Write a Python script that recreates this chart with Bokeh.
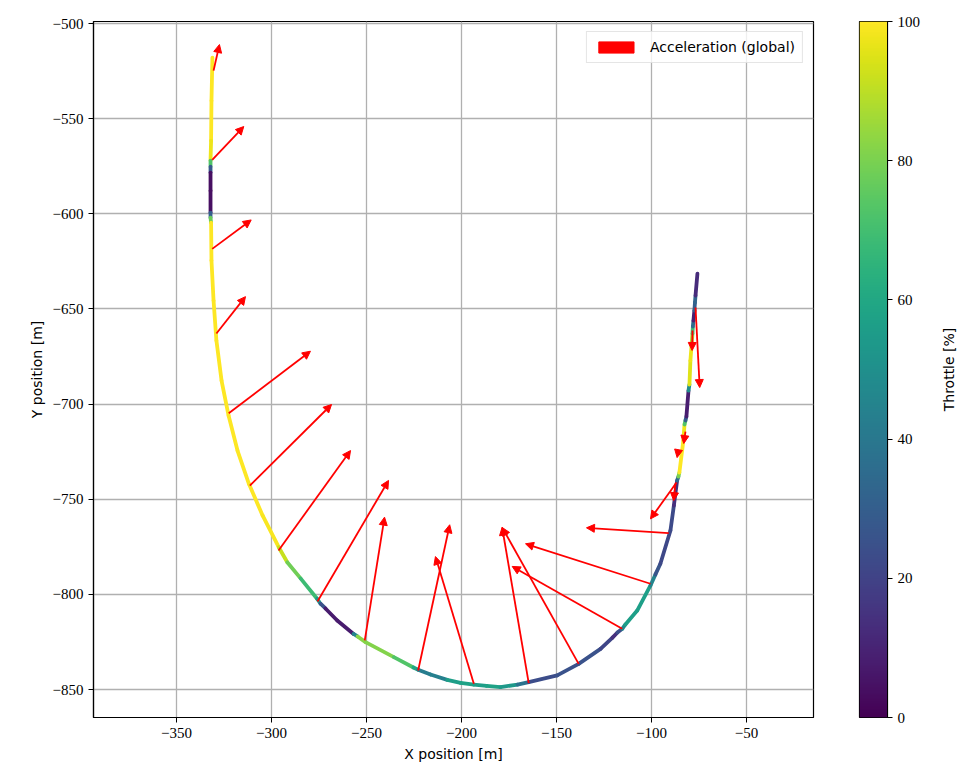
import numpy as np
from bokeh.plotting import figure
from bokeh.models import (ColumnDataSource, Arrow, NormalHead, LinearColorMapper,
                          Range1d, FixedTicker, Legend, LegendItem)
from bokeh.palettes import Viridis256
from bokeh.transform import linear_cmap
from bokeh.layouts import row
from bokeh.embed import file_html
from bokeh.resources import INLINE

# ---------------- data ----------------
track_x = [-331.1, -331.6, -331.8, -332.1, -332.1, -332.1, -332.1, -332.1, -332.1, -331.8,
           -331.6, -330.5, -329.0, -326.3, -322.6, -317.9, -311.9, -304.7, -296.2, -291.7,
           -284.7, -276.0, -274.2, -271.6, -265.4, -256.8, -254.7, -250.5, -235.6, -225.3,
           -222.8, -216.3, -207.5, -200.5, -193.5, -186.8, -179.5, -170.5, -164.6, -149.6,
           -138.3, -126.8, -120.5, -117.9, -115.4, -113.7, -107.5, -100.5, -97.9, -95.3,
           -90.0, -88.2, -86.5, -85.8, -85.3, -83.2, -82.6, -82.1, -81.6, -80.5,
           -80.0, -79.5, -78.9, -78.4, -78.2, -77.9, -77.4, -77.1, -76.8, -75.8]
track_y = [-517.9, -540.5, -561.5, -572.0, -575.2, -578.3, -587.8, -599.3, -602.0, -604.6,
           -624.5, -645.6, -666.6, -687.6, -706.0, -724.4, -741.9, -758.5, -775.2, -783.1,
           -791.6, -802.3, -804.9, -807.4, -813.7, -820.8, -822.1, -825.1, -833.0, -838.4,
           -839.6, -842.1, -844.9, -846.5, -847.4, -848.1, -848.7, -847.4, -846.1, -842.6,
           -836.5, -828.6, -822.7, -820.0, -818.1, -815.8, -808.5, -795.3, -789.5, -783.9,
           -766.4, -753.3, -740.2, -738.1, -736.0, -719.1, -710.7, -708.6, -706.5, -692.9,
           -689.7, -677.1, -669.2, -662.9, -659.2, -656.1, -650.8, -646.6, -642.9, -631.4]
throttle = [100, 100, 100, 95, 50, 5, 3, 5, 55, 100,
            100, 100, 100, 100, 100, 100, 100, 100, 98, 85,
            72, 65, 40, 10, 5, 10, 80, 85, 78, 68,
            50, 35, 52, 60, 55, 57, 58, 50, 25, 22,
            28, 22, 20, 8, 40, 55, 58, 55, 35, 18,
            25, 20, 8, 60, 100, 100, 95, 50, 8, 8,
            90, 100, 95, 80, 60, 8, 10, 50, 15, 10]

acc_x0 = [-330.5, -331.2, -331.2, -329.0, -322.5, -311.4, -296.3, -275.8, -250.9, -222.8,
          -193.5, -164.6, -138.3, -115.4, -100.5, -90.9, -86.8, -87.4, -85.8, -82.1,
          -78.4, -76.8]
acc_y0 = [-524.7, -571.6, -618.4, -662.9, -704.8, -742.8, -776.9, -803.7, -824.2, -840.0,
          -847.0, -846.6, -836.5, -818.1, -794.4, -767.8, -741.2, -741.7, -724.4, -714.4,
          -661.3, -649.2]
acc_x1 = [-327.4, -314.6, -310.7, -313.7, -279.5, -268.4, -258.4, -238.4, -240.5, -206.2,
          -213.7, -178.6, -178.6, -173.3, -166.3, -134.2, -100.5, -88.3, -86.5, -83.0,
          -78.6, -74.6]
acc_y1 = [-511.0, -554.1, -603.2, -643.5, -672.2, -700.2, -724.4, -740.1, -759.4, -763.4,
          -780.1, -764.7, -764.8, -785.3, -773.4, -765.0, -760.3, -750.7, -728.1, -720.7,
          -671.8, -691.3]

x_ticks = [-350, -300, -250, -200, -150, -100, -50]
y_ticks = [-850, -800, -750, -700, -650, -600, -550, -500]
cbar_ticks = [0, 20, 40, 60, 80, 100]

TICK_FONT = "Liberation Serif"
LABEL_FONT = "DejaVu Sans"


def minus(t):
    return ("\u2212" + str(abs(t))) if t < 0 else str(t)


# ---------------- main figure ----------------
p = figure(width=830, height=769,
           x_range=Range1d(-393.7, -14.7), y_range=Range1d(-864.7, -498.9),
           output_backend="svg", toolbar_location=None,
           min_border_left=93, min_border_right=17, min_border_top=21, min_border_bottom=52)
p.background_fill_color = "white"
p.border_fill_color = "white"
p.outline_line_color = "black"
p.outline_line_width = 1.2

tx = np.array(track_x)
ty = np.array(track_y)
tt = np.array(throttle, dtype=float)
seg_src = ColumnDataSource(dict(x0=tx[:-1], y0=ty[:-1], x1=tx[1:], y1=ty[1:],
                                t=(tt[:-1] + tt[1:]) / 2.0))
p.segment("x0", "y0", "x1", "y1", source=seg_src,
          line_color=linear_cmap("t", Viridis256, 0, 100),
          line_width=3.8, line_cap="round")

acc_src = ColumnDataSource(dict(x0=acc_x0, y0=acc_y0, x1=acc_x1, y1=acc_y1))
p.add_layout(Arrow(end=NormalHead(size=8, fill_color="red", line_color="red", line_width=1),
                   x_start="x0", y_start="y0", x_end="x1", y_end="y1",
                   source=acc_src, line_color="red", line_width=1.8))

dummy = p.quad(left=np.array([np.nan]), right=np.array([np.nan]),
               top=np.array([np.nan]), bottom=np.array([np.nan]),
               fill_color="red", line_color="red")
legend = Legend(items=[LegendItem(label="Acceleration (global)", renderers=[dummy])],
                location="top_right", margin=10, padding=7, label_standoff=12,
                glyph_width=44, glyph_height=14,
                label_text_font=LABEL_FONT, label_text_font_size="14px",
                label_text_color="black",
                border_line_color="#cccccc", border_line_width=1,
                background_fill_color="white", background_fill_alpha=0.8)
p.add_layout(legend)

p.xaxis.ticker = FixedTicker(ticks=x_ticks)
p.yaxis.ticker = FixedTicker(ticks=y_ticks)
p.xaxis.major_label_overrides = {t: minus(t) for t in x_ticks}
p.yaxis.major_label_overrides = {t: minus(t) for t in y_ticks}
p.xaxis.axis_label = "X position [m]"
p.yaxis.axis_label = "Y position [m]"
for ax in (p.xaxis, p.yaxis):
    ax.axis_line_color = "black"
    ax.axis_line_width = 1.2
    ax.major_tick_line_color = "black"
    ax.major_tick_out = 5
    ax.major_tick_in = 0
    ax.minor_tick_line_color = None
    ax.major_label_text_font = TICK_FONT
    ax.major_label_text_font_size = "15px"
    ax.major_label_text_color = "black"
    ax.axis_label_text_font = LABEL_FONT
    ax.axis_label_text_font_size = "14px"
    ax.axis_label_text_font_style = "normal"
    ax.axis_label_text_color = "black"
p.grid.grid_line_color = "#b0b0b0"
p.grid.grid_line_width = 1.3

# ---------------- colorbar figure ----------------
cb = figure(width=100, height=769, x_range=Range1d(0, 1), y_range=Range1d(0, 100),
            y_axis_location="right", output_backend="svg", toolbar_location=None,
            min_border_left=29, min_border_right=43, min_border_top=21, min_border_bottom=52)
cb.border_fill_color = "white"
cb.outline_line_color = "black"
cb.outline_line_width = 1.2
grad = np.linspace(0, 100, 256).reshape(-1, 1)
cb.image(image=[grad], x=0, y=0, dw=1, dh=100,
         color_mapper=LinearColorMapper(palette=Viridis256, low=0, high=100))
cb.xaxis.visible = False
cb.grid.visible = False
cb.yaxis.ticker = FixedTicker(ticks=cbar_ticks)
cb.yaxis.axis_line_color = "black"
cb.yaxis.major_tick_line_color = "black"
cb.yaxis.major_tick_out = 5
cb.yaxis.major_tick_in = 0
cb.yaxis.minor_tick_line_color = None
cb.yaxis.major_label_text_font = TICK_FONT
cb.yaxis.major_label_text_font_size = "15px"
cb.yaxis.major_label_text_color = "black"

# ---------------- colorbar title (left axis label of a blank strip) ----------------
tl = figure(width=49, height=769, x_range=Range1d(0, 1), y_range=Range1d(0, 100),
            output_backend="svg", toolbar_location=None,
            min_border_left=26, min_border_right=0, min_border_top=21, min_border_bottom=52)
tl.outline_line_color = None
tl.border_fill_color = "white"
tl.background_fill_color = "white"
tl.grid.visible = False
tl.xaxis.visible = False
tl.yaxis.ticker = FixedTicker(ticks=[])
tl.yaxis.axis_line_color = None
tl.yaxis.major_tick_line_color = None
tl.yaxis.minor_tick_line_color = None
tl.yaxis.axis_label = "Throttle [%]"
tl.yaxis.axis_label_standoff = 0
tl.yaxis.axis_label_text_font = LABEL_FONT
tl.yaxis.axis_label_text_font_size = "14px"
tl.yaxis.axis_label_text_font_style = "normal"
tl.yaxis.axis_label_text_color = "black"

layout = row(p, cb, tl)
open("out.html", "w").write(file_html(layout, INLINE))
